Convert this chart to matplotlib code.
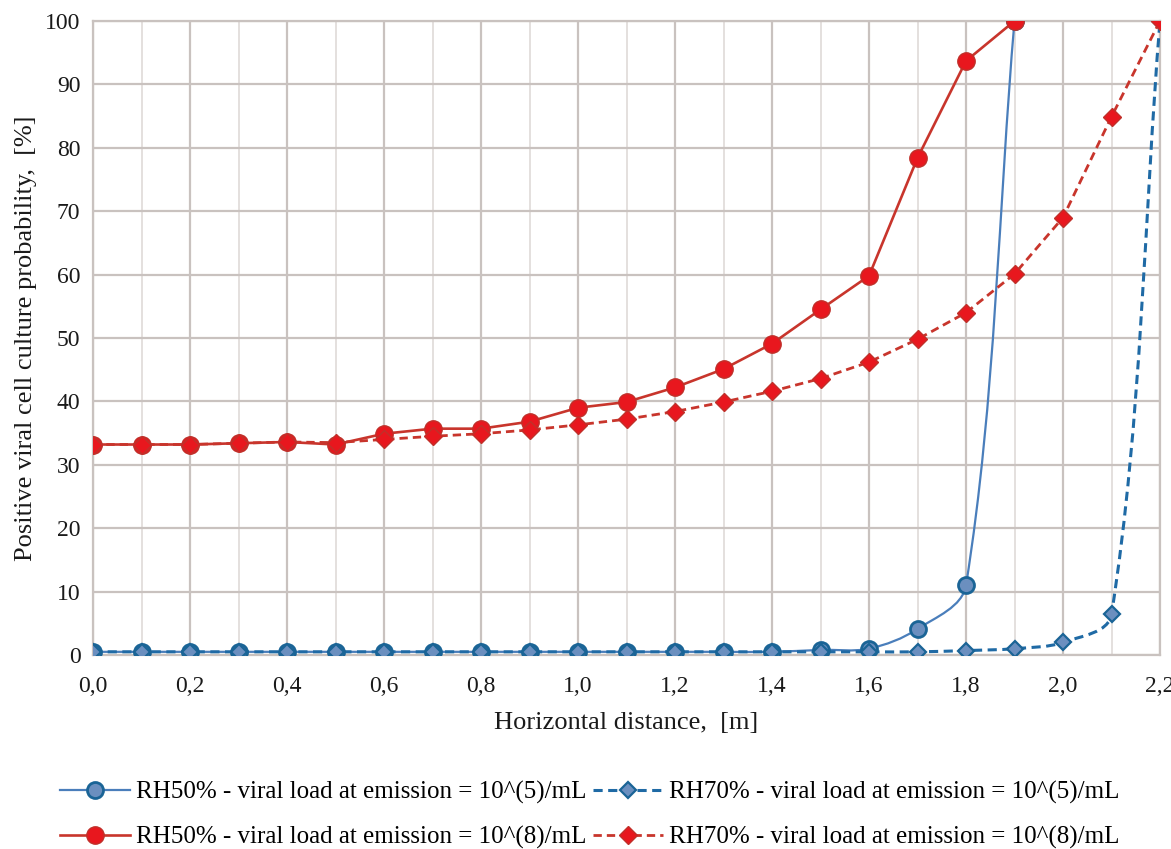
import matplotlib
matplotlib.use("Agg")
import matplotlib.pyplot as plt
import numpy as np
from matplotlib.path import Path
from matplotlib.patches import PathPatch
from matplotlib.lines import Line2D
from matplotlib.ticker import MultipleLocator, FuncFormatter

plt.rcParams['font.family'] = ['Liberation Serif', 'DejaVu Serif']

# ---- data ----
x_rh50_e5 = [0.0, 0.1, 0.2, 0.3, 0.4, 0.5, 0.6, 0.7, 0.8, 0.9, 1.0, 1.1, 1.2, 1.3, 1.4, 1.5, 1.6, 1.7, 1.8, 1.9]
y_rh50_e5 = [0.5, 0.5, 0.5, 0.5, 0.5, 0.5, 0.5, 0.5, 0.5, 0.5, 0.5, 0.5, 0.5, 0.5, 0.5, 0.8, 1.0, 4.1, 11.0, 100.0]

x_rh70_e5 = [0.0, 0.1, 0.2, 0.3, 0.4, 0.5, 0.6, 0.7, 0.8, 0.9, 1.0, 1.1, 1.2, 1.3, 1.4, 1.5, 1.6, 1.7, 1.8, 1.9, 2.0, 2.1, 2.2]
y_rh70_e5 = [0.5, 0.5, 0.5, 0.5, 0.5, 0.5, 0.5, 0.5, 0.5, 0.5, 0.5, 0.5, 0.5, 0.5, 0.5, 0.5, 0.5, 0.5, 0.7, 1.0, 2.0, 6.4, 100.0]

x_rh50_e8 = [0.0, 0.1, 0.2, 0.3, 0.4, 0.5, 0.6, 0.7, 0.8, 0.9, 1.0, 1.1, 1.2, 1.3, 1.4, 1.5, 1.6, 1.7, 1.8, 1.9]
y_rh50_e8 = [33.2, 33.2, 33.2, 33.4, 33.6, 33.2, 34.9, 35.7, 35.7, 36.8, 39.0, 39.9, 42.2, 45.1, 49.1, 54.5, 59.8, 78.4, 93.7, 100.0]

x_rh70_e8 = [0.0, 0.1, 0.2, 0.3, 0.4, 0.5, 0.6, 0.7, 0.8, 0.9, 1.0, 1.1, 1.2, 1.3, 1.4, 1.5, 1.6, 1.7, 1.8, 1.9, 2.0, 2.1, 2.2]
y_rh70_e8 = [33.2, 33.2, 33.2, 33.4, 33.6, 33.5, 34.0, 34.5, 34.9, 35.5, 36.3, 37.2, 38.4, 39.9, 41.6, 43.6, 46.2, 49.8, 54.0, 60.1, 69.0, 84.9, 100.0]

labels = [
    "RH50% - viral load at emission = 10^(5)/mL",
    "RH70% - viral load at emission = 10^(5)/mL",
    "RH50% - viral load at emission = 10^(8)/mL",
    "RH70% - viral load at emission = 10^(8)/mL",
]

# ---- styles ----
BLUE_LINE = "#4a7ebb"
BLUE_DASH = "#1f6aa5"
BLUE_FILL = "#6b8fbf"
BLUE_EDGE = "#1a6496"
RED_LINE = "#c8352c"
RED_FILL = "#e8171e"
RED_EDGE = "#c0302a"
GRID_MAJ = "#c9c2bf"
GRID_MIN = "#e4e0de"
DASH = (0, (3.0, 1.8))


def smooth_path(ax, xs, ys):
    """Smoothed line (cubic Bezier through the data points), computed in display space
    with chord-proportional tangents so that it does not overshoot."""
    P = ax.transData.transform(np.column_stack([xs, ys]).astype(float))
    n = len(P)
    tang = []
    for i in range(n):
        a = P[i - 1] if i > 0 else P[i]
        b = P[i + 1] if i < n - 1 else P[i]
        t = b - a
        nt = np.hypot(*t)
        tang.append(t / nt if nt > 0 else t)
    verts = [P[0]]
    codes = [Path.MOVETO]
    for i in range(n - 1):
        d = np.hypot(*(P[i + 1] - P[i]))
        c1 = P[i] + tang[i] * d / 3.0
        c2 = P[i + 1] - tang[i + 1] * d / 3.0
        verts += [c1, c2, P[i + 1]]
        codes += [Path.CURVE4] * 3
    V = ax.transData.inverted().transform(np.array(verts))
    return Path(V, codes)


fig = plt.figure(figsize=(11.71, 8.49), dpi=100)
ax = fig.add_axes([93 / 1171, 1 - 655 / 849, (1160 - 93) / 1171, (655 - 21) / 849])

ax.set_xlim(0, 2.2)
ax.set_ylim(0, 100)
ax.xaxis.set_major_locator(MultipleLocator(0.2))
ax.xaxis.set_minor_locator(MultipleLocator(0.1))
ax.yaxis.set_major_locator(MultipleLocator(10))
ax.xaxis.set_major_formatter(FuncFormatter(lambda v, p: f"{v:.1f}".replace('.', ',')))
ax.grid(which='major', axis='both', color=GRID_MAJ, linewidth=1.6, zorder=0)
ax.grid(which='minor', axis='x', color=GRID_MIN, linewidth=1.4, zorder=0)
ax.set_axisbelow(True)
for s in ax.spines.values():
    s.set_color(GRID_MAJ)
    s.set_linewidth(1.6)
ax.tick_params(which='both', length=0, labelsize=17, colors='#1a1a1a')
ax.tick_params(axis='x', pad=15)
ax.tick_params(axis='y', pad=9)

# blue RH50 e5 (smoothed solid)
ax.add_patch(PathPatch(smooth_path(ax, x_rh50_e5, y_rh50_e5), facecolor='none',
                       edgecolor=BLUE_LINE, linewidth=1.6, zorder=3))
# blue RH70 e5 (smoothed dashed)
ax.add_patch(PathPatch(smooth_path(ax, x_rh70_e5, y_rh70_e5), facecolor='none',
                       edgecolor=BLUE_DASH, linewidth=2.2, linestyle=DASH, zorder=3))
ax.plot(x_rh50_e5, y_rh50_e5, linestyle='none', marker='o', markersize=11.5,
        markerfacecolor=BLUE_FILL, markeredgecolor=BLUE_EDGE, markeredgewidth=2.0, zorder=4)
ax.plot(x_rh70_e5, y_rh70_e5, linestyle='none', marker='D', markersize=8.5,
        markerfacecolor=BLUE_FILL, markeredgecolor=BLUE_EDGE, markeredgewidth=1.6, zorder=4)

# red
ax.plot(x_rh50_e8, y_rh50_e8, color=RED_LINE, linewidth=1.9, marker='o', markersize=12.5,
        markerfacecolor=RED_FILL, markeredgecolor=RED_EDGE, markeredgewidth=1.0, zorder=5)
ax.plot(x_rh70_e8, y_rh70_e8, color=RED_LINE, linewidth=2.0, linestyle=DASH, marker='D',
        markersize=9.5, markerfacecolor=RED_FILL, markeredgecolor=RED_EDGE,
        markeredgewidth=1.0, zorder=5)

ax.set_xlabel("Horizontal distance,  [m]", fontsize=19, labelpad=11, color='#1a1a1a')
ax.set_ylabel("Positive viral cell culture probability,  [%]", fontsize=19, labelpad=6,
              color='#1a1a1a')

handles = [
    Line2D([], [], color=BLUE_LINE, linewidth=1.6, marker='o', markersize=11.5,
           markerfacecolor=BLUE_FILL, markeredgecolor=BLUE_EDGE, markeredgewidth=2.0),
    Line2D([], [], color=RED_LINE, linewidth=1.9, marker='o', markersize=12.5,
           markerfacecolor=RED_FILL, markeredgecolor=RED_EDGE, markeredgewidth=1.0),
    Line2D([], [], color=BLUE_DASH, linewidth=2.2, linestyle=DASH, marker='D', markersize=8.5,
           markerfacecolor=BLUE_FILL, markeredgecolor=BLUE_EDGE, markeredgewidth=1.6),
    Line2D([], [], color=RED_LINE, linewidth=2.0, linestyle=DASH, marker='D', markersize=9.5,
           markerfacecolor=RED_FILL, markeredgecolor=RED_EDGE, markeredgewidth=1.0),
]
leg_labels = [labels[0], labels[2], labels[1], labels[3]]
fig.legend(handles, leg_labels, loc='center', bbox_to_anchor=(590 / 1171, 1 - 815 / 849),
           ncol=2, frameon=False, fontsize=18, handlelength=2.8, handletextpad=0.25,
           columnspacing=0.25, labelspacing=0.9, numpoints=1)

fig.savefig("out.png", dpi=100)
